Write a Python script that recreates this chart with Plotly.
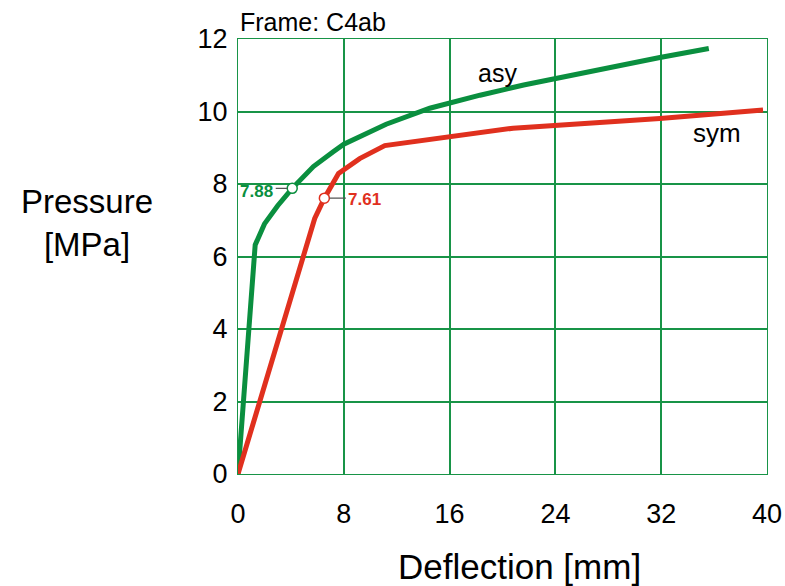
import plotly.graph_objects as go

# Load-deflection curves for frame C4ab
asy_x = [0, 1.3, 2.0, 3.0, 4.1, 5.7, 7.2, 8.0, 11.2, 14.5, 18.3, 21.6, 31.9, 35.6]
asy_y = [0, 6.32, 6.9, 7.4, 7.88, 8.48, 8.89, 9.1, 9.65, 10.09, 10.45, 10.73, 11.49, 11.74]

sym_x = [0, 4.94, 5.8, 6.53, 7.6, 9.2, 11.1, 20.8, 31.9, 39.7]
sym_y = [0, 6.0, 7.05, 7.61, 8.29, 8.7, 9.06, 9.54, 9.81, 10.04]

# Marked points (value labels)
asy_mark = (4.1, 7.88)
sym_mark = (6.53, 7.61)

x_ticks = [0, 8, 16, 24, 32, 40]
y_ticks = [0, 2, 4, 6, 8, 10, 12]

GREEN = "#0a8f3f"
RED = "#e0301e"
GRID = "#189447"
FONT = "Liberation Sans, Arial, sans-serif"

fig = go.Figure()
fig.add_trace(go.Scatter(x=asy_x, y=asy_y, mode="lines",
                         line=dict(color=GREEN, width=5), hoverinfo="skip"))
fig.add_trace(go.Scatter(x=sym_x, y=sym_y, mode="lines",
                         line=dict(color=RED, width=5), hoverinfo="skip"))
fig.add_trace(go.Scatter(x=[asy_mark[0]], y=[asy_mark[1]], mode="markers",
                         marker=dict(size=10, color="white",
                                     line=dict(color=GREEN, width=1.5)),
                         hoverinfo="skip"))
fig.add_trace(go.Scatter(x=[sym_mark[0]], y=[sym_mark[1]], mode="markers",
                         marker=dict(size=10, color="white",
                                     line=dict(color=RED, width=1.5)),
                         hoverinfo="skip"))

annotations = [
    # leader lines
    dict(x=asy_mark[0], y=asy_mark[1], xref="x", yref="y", text="",
         showarrow=True, arrowhead=0, arrowwidth=1.2, arrowcolor="#555555",
         ax=-18, ay=0, standoff=5),
    dict(x=sym_mark[0], y=sym_mark[1], xref="x", yref="y", text="",
         showarrow=True, arrowhead=0, arrowwidth=1.2, arrowcolor="#555555",
         ax=23, ay=0, standoff=5),
    # value labels
    dict(x=asy_mark[0], y=asy_mark[1], xref="x", yref="y",
         text="<b>%.2f</b>" % asy_mark[1], showarrow=False,
         xanchor="right", yanchor="middle", xshift=-17, yshift=-3,
         font=dict(family=FONT, size=17, color=GREEN)),
    dict(x=sym_mark[0], y=sym_mark[1], xref="x", yref="y",
         text="<b>%.2f</b>" % sym_mark[1], showarrow=False,
         xanchor="left", yanchor="middle", xshift=22, yshift=-1,
         font=dict(family=FONT, size=17, color=RED)),
    # series names
    dict(x=19.6, y=11.06, xref="x", yref="y", text="asy", showarrow=False,
         font=dict(family=FONT, size=25, color="black")),
    dict(x=36.2, y=9.41, xref="x", yref="y", text="sym", showarrow=False,
         font=dict(family=FONT, size=26, color="black")),
    # frame caption
    dict(x=0, y=1, xref="x", yref="paper", text="Frame: C4ab",
         showarrow=False, xanchor="left", yanchor="middle", yshift=17,
         xshift=0, font=dict(family=FONT, size=25, color="black")),
    # axis titles
    dict(x=0.533, y=-0.2115, xref="paper", yref="paper",
         text="Deflection [mm]", showarrow=False,
         xanchor="center", yanchor="middle",
         font=dict(family=FONT, size=35, color="black")),
    dict(x=-0.2854, y=0.577, xref="paper", yref="paper",
         text="Pressure<br>[MPa]", showarrow=False,
         xanchor="center", yanchor="middle",
         font=dict(family=FONT, size=33, color="black")),
]

fig.update_layout(
    width=785, height=586,
    margin=dict(l=238, r=18, t=39, b=112, autoexpand=False),
    paper_bgcolor="white", plot_bgcolor="white",
    showlegend=False,
    annotations=annotations,
    font=dict(family=FONT, color="black"),
)
fig.update_xaxes(range=[0, 40], tickvals=x_ticks, ticktext=[str(v) for v in x_ticks],
                 showgrid=True, gridcolor=GRID, gridwidth=1.5, zeroline=False,
                 showline=True, mirror=True, linecolor=GRID, linewidth=1.2,
                 ticks="", ticklabelstandoff=15, automargin=False,
                 tickfont=dict(family=FONT, size=27, color="black"))
fig.update_yaxes(range=[0, 12], tickvals=y_ticks, ticktext=[str(v) for v in y_ticks],
                 showgrid=True, gridcolor=GRID, gridwidth=1.5, zeroline=False,
                 showline=True, mirror=True, linecolor=GRID, linewidth=1.2,
                 ticks="", ticklabelstandoff=4, automargin=False,
                 tickfont=dict(family=FONT, size=27, color="black"))

fig.write_html("out.html")
